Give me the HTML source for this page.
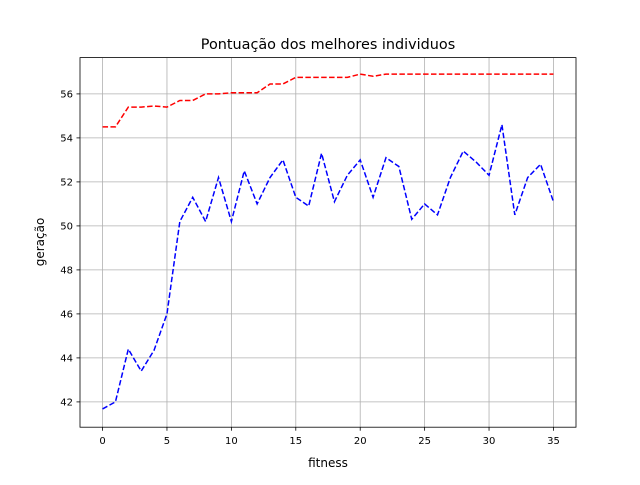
<!DOCTYPE html>
<html><head><meta charset="utf-8"><style>body{margin:0;background:#fff}svg text{font-family:"DejaVu Sans","Liberation Sans",sans-serif}</style></head>
<body>
<svg id="c" width="640" height="480" xmlns="http://www.w3.org/2000/svg"></svg>
<script>
const xs = [0,1,2,3,4,5,6,7,8,9,10,11,12,13,14,15,16,17,18,19,20,21,22,23,24,25,26,27,28,29,30,31,32,33,34,35];
const bestSeries = [54.5,54.5,55.4,55.4,55.45,55.4,55.7,55.7,56,56,56.05,56.05,56.05,56.45,56.45,56.75,56.75,56.75,56.75,56.75,56.9,56.8,56.9,56.9,56.9,56.9,56.9,56.9,56.9,56.9,56.9,56.9,56.9,56.9,56.9,56.9];
const otherSeries = [41.68,42,44.4,43.4,44.35,46,50.2,51.3,50.2,52.2,50.2,52.5,51,52.2,53,51.3,50.9,53.3,51.1,52.3,53,51.3,53.1,52.7,50.3,51,50.5,52.2,53.4,52.9,52.3,54.6,50.5,52.2,52.8,51.1];
const xTicks = [0,5,10,15,20,25,30,35];
const yTicks = [42,44,46,48,50,52,54,56];
const NS="http://www.w3.org/2000/svg";
const svg=document.getElementById('c');
const L=80,R=576,T=57.6,B=427.2,x0=-1.75,x1=36.75,y0=40.85,y1=57.65;
const X=v=>L+(v-x0)/(x1-x0)*(R-L);
const Y=v=>B-(v-y0)/(y1-y0)*(B-T);
function mk(t,a,p){const e=document.createElementNS(NS,t);for(const k in a)e.setAttribute(k,a[k]);(p||svg).appendChild(e);return e;}
xTicks.forEach(v=>{
const g=mk('line',{x1:X(v),x2:X(v),y1:T,y2:B,stroke:'#b0b0b0','stroke-width':0.8});


mk('line',{x1:X(v),x2:X(v),y1:B,y2:B+3.5,stroke:'#000','stroke-width':0.8});
const t=mk('text',{x:X(v),y:B+17,'text-anchor':'middle','font-size':10});t.textContent=v;


});
yTicks.forEach(v=>{
const g=mk('line',{x1:L,x2:R,y1:Y(v),y2:Y(v),stroke:'#b0b0b0','stroke-width':0.8});


mk('line',{x1:L-3.5,x2:L,y1:Y(v),y2:Y(v),stroke:'#000','stroke-width':0.8});
const t=mk('text',{x:L-7,y:Y(v)+3.5,'text-anchor':'end','font-size':10});t.textContent=v;


});
function line(arr,col,name){
const p=mk('polyline',{points:xs.map((x,i)=>X(x)+','+Y(arr[i])).join(' '),fill:'none',stroke:col,'stroke-width':1.5,'stroke-dasharray':'5.5,2.4'});


}
line(bestSeries,'#ff0000','red-series-line');
line(otherSeries,'#0000ff','blue-series-line');
const fr=mk('rect',{x:L,y:T,width:R-L,height:B-T,fill:'none',stroke:'#000','stroke-width':0.8});


</script>
<svg width="640" height="480" style="position:absolute;left:0;top:0" xmlns="http://www.w3.org/2000/svg">
<text x="328" y="49" text-anchor="middle" font-size="14.4">Pontuação dos melhores individuos</text>
<text x="328" y="467" text-anchor="middle" font-size="12">fitness</text>
<text x="44" y="242" text-anchor="middle" font-size="12" transform="rotate(-90 44 242)">geração</text>
</svg>
</body></html>
